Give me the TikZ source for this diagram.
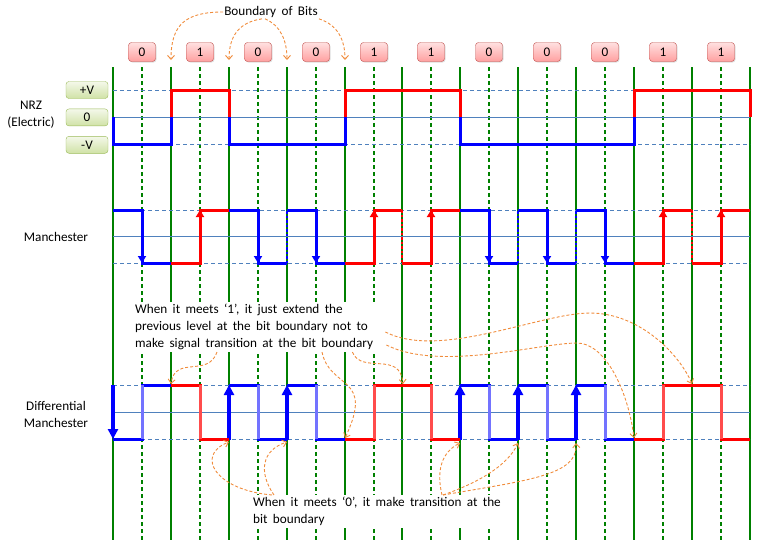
\documentclass[tikz,border=0pt]{standalone}
\usepackage{fontspec}
\setmainfont{Carlito}[WordSpace=1.8]
\usetikzlibrary{arrows.meta, positioning, shadows}

\definecolor{gridgreen}{RGB}{0,128,0}
\definecolor{levelblue}{RGB}{79,129,189}
\definecolor{noteorange}{RGB}{240,140,60}
\definecolor{bitborder}{RGB}{192,80,77}
\definecolor{bittop}{RGB}{255,224,224}
\definecolor{bitbottom}{RGB}{255,160,160}
\definecolor{lvlborder}{RGB}{155,187,89}
\definecolor{lvltop}{RGB}{244,248,234}
\definecolor{lvlbottom}{RGB}{208,226,166}

\begin{document}
\begin{tikzpicture}[
  x=1pt, y=-1pt,
  font=\fontsize{13.2}{17}\selectfont,
  bitbox/.style={draw=bitborder, rounded corners=3pt, top color=bittop, bottom color=bitbottom, minimum width=27pt, minimum height=19pt, inner sep=0pt, drop shadow={opacity=0.25, shadow xshift=1pt, shadow yshift=-1pt}},
  lvlbox/.style={draw=lvlborder, rounded corners=3pt, top color=lvltop, bottom color=lvlbottom, minimum width=42pt, minimum height=17pt, inner sep=0pt},
  signame/.style={align=center},
  note/.style={align=left, fill=white, inner sep=2pt},
  bound/.style={draw=gridgreen, line width=1.1pt},
  midgrid/.style={draw=gridgreen, line width=1.1pt, dash pattern=on 4pt off 3pt},
  level/.style={levelblue, line width=1pt},
  vlevel/.style={level, dash pattern=on 4pt off 3pt},
  zeroline/.style={blue, line width=3pt},
  oneline/.style={red, line width=3pt},
  midarrow/.style={-{Triangle[length=7pt,width=8pt]}},
  edgearrow/.style={line width=4pt, -{Triangle[length=10pt,width=10pt]}},
  dots/.style={line width=2.6pt, dash pattern=on 2.5pt off 2pt},
  notearrow/.style={noteorange, line width=0.9pt, dash pattern=on 3pt off 2pt, -{Straight Barb[length=4pt,width=7pt]}}
]
\useasboundingbox (0,0) rectangle (758,550);

% bit grid
\foreach \i in {0,...,11} {
  \pgfmathsetmacro\xa{113+round(\i*57.9)}
  \draw[bound] (\xa,67) -- (\xa,540);
}
\foreach \i in {0,...,10} {
  \pgfmathsetmacro\xm{142+round(\i*57.9)}
  \draw[midgrid] (\xm,67) -- (\xm,540);
}

% signal levels
\foreach \y in {90,210,385}
  \draw[vlevel] (113,\y) -- (750,\y);
\foreach \y in {117,236,412}
  \draw[level] (113,\y) -- (750,\y);
\foreach \y in {144,263,439}
  \draw[vlevel] (113,\y) -- (750,\y);

% bits
\foreach \b [count=\i from 0] in {0,1,0,0,1,1,0,0,0,1,1} {
  \pgfmathsetmacro\xm{142+round(\i*57.9)}
  \node[bitbox] (bit\i) at (\xm,52) {\b};
}

\node[lvlbox] (pv) at (87,90) {+V};
\node[lvlbox, below=10pt of pv] (zv) {0};
\node[lvlbox, below=10pt of zv] (mv) {-V};

\node[signame] (nrz) at (31,115) {NRZ\\(Electric)};
\node[signame] (man) at (56,237) {Manchester};
\node[signame] (dman) at (56,414) {Differential\\Manchester};

% NRZ
\draw[zeroline] (113,117) -- (113,144) -- (171,144) -- (171,117);
\draw[oneline] (171,117) -- (171,90) -- (229,90) -- (229,117);
\draw[zeroline] (229,117) -- (229,144) -- (345,144) -- (345,117);
\draw[oneline] (345,117) -- (345,90) -- (460,90) -- (460,117);
\draw[zeroline] (460,117) -- (460,144) -- (634,144) -- (634,117);
\draw[oneline] (634,117) -- (634,90) -- (750,90) -- (750,117);

% Manchester
\foreach \i in {0,2,3,6,7,8} {
  \pgfmathsetmacro\xa{113+round(\i*57.9)}
  \pgfmathsetmacro\xm{142+round(\i*57.9)}
  \pgfmathsetmacro\xb{113+round((\i+1)*57.9)}
  \draw[zeroline] (\xa,210) -- (\xm,210) -- (\xm,263) -- (\xb,263);
  \draw[zeroline, midarrow] (\xm,210) -- (\xm,263);
}
\foreach \i in {1,4,5,9,10} {
  \pgfmathsetmacro\xa{113+round(\i*57.9)}
  \pgfmathsetmacro\xm{142+round(\i*57.9)}
  \pgfmathsetmacro\xb{113+round((\i+1)*57.9)}
  \draw[oneline] (\xa,263) -- (\xm,263) -- (\xm,210) -- (\xb,210);
  \draw[oneline, midarrow] (\xm,263) -- (\xm,210);
}
\foreach \i in {3,7,8} {
  \pgfmathsetmacro\xa{113+round(\i*57.9)}
  \draw[blue, dots] (\xa,263) -- (\xa,210);
}
\foreach \i in {5,10} {
  \pgfmathsetmacro\xa{113+round(\i*57.9)}
  \draw[red, dots] (\xa,210) -- (\xa,263);
}

% Differential Manchester
\draw[zeroline] (113,439) -- (142,439) -- (142,385) -- (171,385);
\draw[blue!55, line width=3pt] (142,439) -- (142,385);
\draw[blue, edgearrow] (113,385) -- (113,439);
\foreach \i in {2,3,6,7,8} {
  \pgfmathsetmacro\xa{113+round(\i*57.9)}
  \pgfmathsetmacro\xm{142+round(\i*57.9)}
  \pgfmathsetmacro\xb{113+round((\i+1)*57.9)}
  \draw[zeroline] (\xa,385) -- (\xm,385) -- (\xm,439) -- (\xb,439);
  \draw[blue!55, line width=3pt] (\xm,385) -- (\xm,439);
  \draw[blue, edgearrow] (\xa,440) -- (\xa,385);
}
\foreach \i in {1,5,10} {
  \pgfmathsetmacro\xa{113+round(\i*57.9)}
  \pgfmathsetmacro\xm{142+round(\i*57.9)}
  \pgfmathsetmacro\xb{113+round((\i+1)*57.9)}
  \draw[oneline] (\xa,385) -- (\xm,385) -- (\xm,439) -- (\xb,439);
  \draw[red!70, line width=3pt] (\xm,385) -- (\xm,439);
}
\foreach \i in {4,9} {
  \pgfmathsetmacro\xa{113+round(\i*57.9)}
  \pgfmathsetmacro\xm{142+round(\i*57.9)}
  \pgfmathsetmacro\xb{113+round((\i+1)*57.9)}
  \draw[oneline] (\xa,439) -- (\xm,439) -- (\xm,385) -- (\xb,385);
  \draw[red!70, line width=3pt] (\xm,439) -- (\xm,385);
}

% notes
\node[inner sep=1pt] (bnd) at (271,12) {Boundary of Bits};
\node[note, anchor=west] (rule1) at (133,327) {When it meets ‘1’, it just extend the\\previous level at the bit boundary not to\\make signal transition at the bit boundary};
\node[note, anchor=west] (rule0) at (251,511.5) {When it meets ‘0’, it make transition at the\\bit boundary};

\coordinate (bb1) at (171,60);
\coordinate (bb2) at (229,60);
\coordinate (bb3) at (287,60);
\coordinate (bb4) at (345,60);
\draw[notearrow] (bnd.west) .. controls (185,12) and (171,25) .. (bb1);
\draw[notearrow] ([xshift=-9pt]bnd.south) .. controls (240,22) and (229,35) .. (bb2);
\draw[notearrow] ([xshift=-6pt]bnd.south) .. controls (280,25) and (287,40) .. (bb3);
\draw[notearrow] (bnd.south east) .. controls (338,25) and (345,40) .. (bb4);

\coordinate (k1) at (171,384);
\coordinate (k2) at (345,438);
\coordinate (k3) at (403,384);
\coordinate (k4) at (692,384);
\coordinate (k5) at (634,438);
\draw[notearrow] ([xshift=84pt]rule1.south west) .. controls (208,378) and (175,355) .. (k1);
\draw[notearrow] ([xshift=189pt]rule1.south west) .. controls (330,390) and (375,375) .. (k2);
\draw[notearrow] ([xshift=-23pt]rule1.south east) .. controls (362,375) and (400,350) .. (k3);
\draw[notearrow] ([shift={(10,5)}]rule1.east) .. controls (440,360) and (540,313) .. (590,313) .. controls (640,313) and (680,355) .. (k4);
\draw[notearrow] ([shift={(11,18)}]rule1.east) .. controls (440,372) and (540,343) .. (577,343) .. controls (605,343) and (628,390) .. (k5);

\coordinate (z1) at (229,442);
\coordinate (z2) at (287,442);
\coordinate (z3) at (460,443);
\coordinate (z4) at (518,443);
\coordinate (z5) at (576,443);
\draw[notearrow] ([xshift=21pt]rule0.north west) .. controls (215,490) and (195,455) .. (z1);
\draw[notearrow] ([xshift=23pt]rule0.north west) .. controls (258,472) and (262,450) .. (z2);
\draw[notearrow] ([xshift=191pt]rule0.north west) .. controls (436,470) and (442,452) .. (z3);
\draw[notearrow] ([xshift=192pt]rule0.north west) .. controls (480,482) and (508,465) .. (z4);
\draw[notearrow] ([xshift=192pt]rule0.north west) .. controls (530,480) and (578,475) .. (z5);
\end{tikzpicture}
\end{document}
